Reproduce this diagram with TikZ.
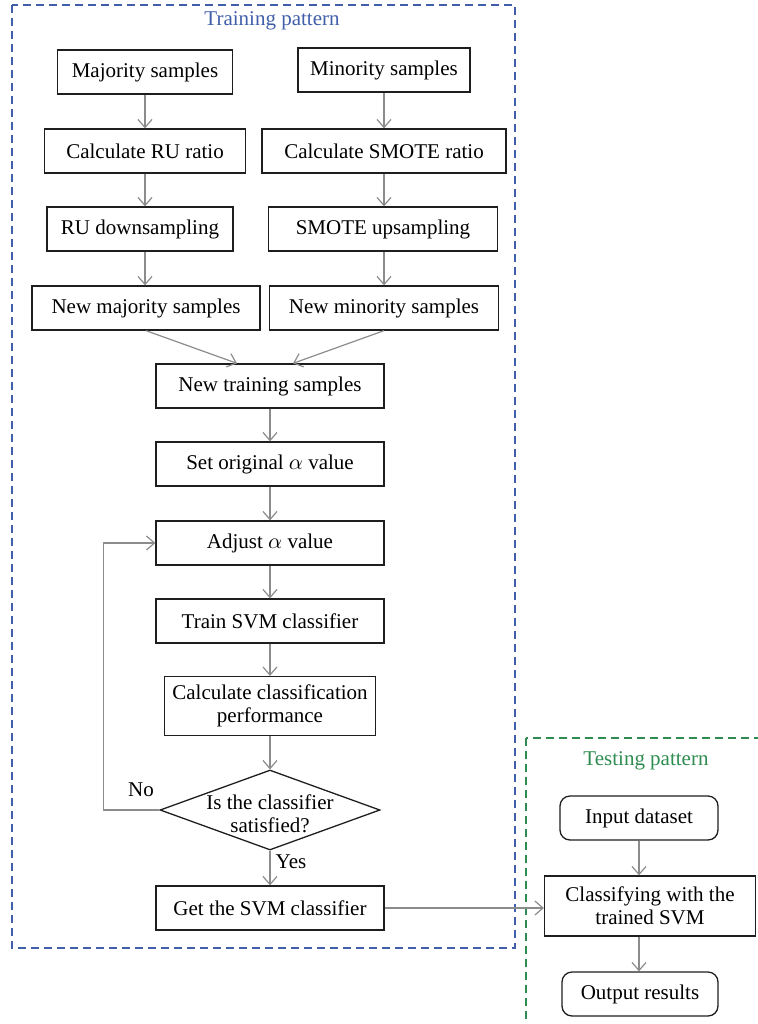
\documentclass[tikz,border=0pt]{standalone}
\usepackage{fontspec}
\setmainfont{Liberation Serif}
\usepackage{tikz}
\usepackage{xcolor}
\usetikzlibrary{calc,arrows.meta,positioning,shapes.geometric}
\definecolor{trainBlue}{RGB}{64,94,170}
\definecolor{testGreen}{RGB}{46,140,80}
\definecolor{flowGray}{RGB}{140,140,140}
\definecolor{boxDark}{RGB}{30,30,30}
\tikzset{
  stepbox/.style={draw=boxDark,line width=.65pt,minimum height=22pt,inner sep=2pt,align=center,font=\fontsize{10.5}{11.5}\selectfont},
  roundbox/.style={stepbox,rounded corners=5pt},
  decision/.style={draw=boxDark,line width=.65pt,diamond,inner sep=0pt,minimum width=110pt,minimum height=40pt},
  flow/.style={draw=flowGray,line width=.6pt,-{Straight Barb[length=4pt,width=7pt]}},
  frame/.style={dashed,dash pattern=on 4pt off 2.5pt,line width=.6pt},
  lbl/.style={font=\fontsize{10.5}{11.5}\selectfont}
}

\begin{document}
\begin{tikzpicture}[x=0.5pt,y=-0.5pt]
\useasboundingbox (0,0) rectangle (758,1024);
% frames
\draw[frame,draw=trainBlue] (12,5) rectangle (515,948);
\node[lbl,text=trainBlue] (trainTitle) at (272,21) {Training pattern};
\draw[frame,draw=testGreen] (526,738) rectangle (790,1060);
\node[lbl,text=testGreen] (testTitle) at (646,761) {Testing pattern};

% training pattern
\node[stepbox,minimum width=87.5pt] (majSamples) at (145,72) {Majority samples};
\node[stepbox,minimum width=86pt] (minSamples) at (384,70) {Minority samples};
\node[stepbox,minimum width=100.5pt] (ruRatio) at (145,151) {Calculate RU ratio};
\node[stepbox,minimum width=122pt] (smoteRatio) at (384,151) {Calculate SMOTE ratio};
\node[stepbox,minimum width=93pt] (ruDown) at (140,229) {RU downsampling};
\node[stepbox,minimum width=114.5pt] (smoteUp) at (383,229) {SMOTE upsampling};
\node[stepbox,minimum width=114pt] (newMaj) at (146,308) {New majority samples};
\node[stepbox,minimum width=114.5pt] (newMin) at (384,308) {New minority samples};
\node[stepbox,minimum width=114pt] (newTrain) at (270,386) {New training samples};
\node[stepbox,minimum width=114pt] (setAlpha) at (270,464) {Set original $\alpha$ value};
\node[stepbox,minimum width=114pt] (adjAlpha) at (270,543) {Adjust $\alpha$ value};
\node[stepbox,minimum width=114pt] (trainSvm) at (270,621) {Train SVM classifier};
\node[stepbox,minimum width=105.5pt,minimum height=29.5pt] (calcPerf) at (270,706) {Calculate classification\\performance};
\node[decision] (check) at (270,810) {};
\node[lbl,align=center] (checkTxt) at (270,814) {Is the classifier\\satisfied?};
\node[stepbox,minimum width=114pt] (getSvm) at (270,908) {Get the SVM classifier};
\node[lbl] (noLbl) at (141,790) {No};
\node[lbl] (yesLbl) at (291,862) {Yes};

% testing pattern
\node[roundbox,minimum width=79pt] (inData) at (639,818) {Input dataset};
\node[stepbox,minimum width=105.5pt,minimum height=30pt] (classify) at (650,906) {Classifying with the\\trained SVM};
\node[roundbox,minimum width=78pt] (outRes) at (640,994) {Output results};

% connectors
\draw[flow] (majSamples.south) -- (majSamples.south |- ruRatio.north);
\draw[flow] (minSamples.south) -- (minSamples.south |- smoteRatio.north);
\draw[flow] (ruRatio.south) -- (ruRatio.south |- ruDown.north);
\draw[flow] (smoteRatio.south) -- (smoteRatio.south |- smoteUp.north);
\draw[flow] (ruDown.south -| ruRatio.south) -- (ruRatio.south |- newMaj.north);
\draw[flow] (smoteUp.south -| smoteRatio.south) -- (smoteRatio.south |- newMin.north);
\draw[flow] (newMaj.south) -- ($(newTrain.north)+(-33,0)$);
\draw[flow] (newMin.south) -- ($(newTrain.north)+(23,0)$);
\draw[flow] (newTrain) -- (setAlpha);
\draw[flow] (setAlpha) -- (adjAlpha);
\draw[flow] (adjAlpha) -- (trainSvm);
\draw[flow] (trainSvm) -- (calcPerf);
\draw[flow] (calcPerf) -- (check.north);
\draw[flow] (check.south) -- (getSvm);
\draw[flow] (check.west) -- ++(-56,0) |- (adjAlpha.west);
\draw[flow] (getSvm.east) -- (getSvm.east -| classify.west);
\draw[flow] (inData) -- (inData |- classify.north);
\draw[flow] (classify.south -| inData) -- (inData |- outRes.north);
\end{tikzpicture}
\end{document}
